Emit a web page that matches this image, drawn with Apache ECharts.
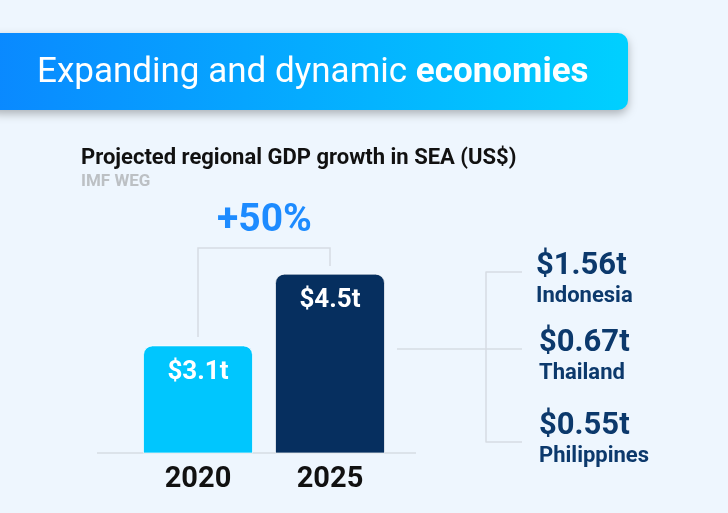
<!DOCTYPE html>
<html><head><meta charset="utf-8">
<script src="https://cdn.jsdelivr.net/npm/echarts@6/dist/echarts.min.js"></script>
<style>html,body{margin:0;padding:0;background:#eef6fe;}#c{width:728px;height:513px;}</style>
</head><body><div id="c"></div>
<script>
const categories = ['2020', '2025'];
const gdpValues = [3.1, 4.5];
const barLabels = ['$3.1t', '$4.5t'];
const growthLabel = '+50%';
const countries = ['Indonesia', 'Thailand', 'Philippines'];
const countryValues = ['$1.56t', '$0.67t', '$0.55t'];

const chart = echarts.init(document.getElementById('c'), null, {renderer: 'canvas'});
const barColors = ['#00c6fe', '#062f5f'];
const navy = '#0c396c';
const lineCol = '#d6dce3';

const valueY = [266, 343.5, 426.5];
const nameY = [296, 373, 456];
const countryX = [536, 539, 539];
const countryGraphics = [];
countries.forEach((name, i) => {
  countryGraphics.push({type: 'text', x: countryX[i], y: valueY[i],
    style: {text: countryValues[i], fill: navy, font: 'bold 31px Roboto', textVerticalAlign: 'middle'}});
  countryGraphics.push({type: 'text', x: countryX[i], y: nameY[i],
    style: {text: name, fill: navy, font: 'bold 22px Roboto', textVerticalAlign: 'middle'}});
});

chart.setOption({
  backgroundColor: '#eef6fe',
  animation: false,
  grid: {left: 132, width: 264, top: 248, height: 205},
  xAxis: {type: 'category', data: categories,
    axisLine: {show: false}, axisTick: {show: false},
    axisLabel: {color: '#111', fontFamily: 'Roboto', fontWeight: 'bold', fontSize: 29, margin: 12}},
  yAxis: {type: 'value', min: 1, max: 5, show: false, splitLine: {show: false}},
  series: [{
    type: 'bar', barWidth: 110,
    data: gdpValues.map((v, i) => ({value: v,
      itemStyle: {color: barColors[i], borderRadius: [9, 9, 0, 0], borderColor: 'rgba(255,255,255,0.7)', borderWidth: 1},
      label: {formatter: barLabels[i]}})),
    label: {show: true, position: 'insideTop', distance: 14, color: '#fff',
      fontFamily: 'Roboto', fontWeight: 'bold', fontSize: 26}
  }],
  graphic: [
    {type: 'rect', shape: {x: -12, y: 33, width: 640, height: 77, r: 10}, z: 1,
      style: {fill: new echarts.graphic.LinearGradient(0, 0, 1, 0, [
        {offset: 0, color: '#0a88ff'}, {offset: 1, color: '#00d0ff'}]),
        shadowBlur: 10, shadowOffsetY: 4, shadowColor: 'rgba(0,0,0,0.28)'}},
    {type: 'text', x: 37, y: 73, z: 2,
      style: {text: '{a|Expanding and dynamic }{b|economies}', textVerticalAlign: 'middle', fill: '#fff',
        rich: {a: {fontSize: 35, fontWeight: 'normal', fontFamily: 'Roboto', fill: '#fff', color: '#fff'},
               b: {fontSize: 35, fontWeight: 'bold', fontFamily: 'Roboto', fill: '#fff', color: '#fff'}}}},
    {type: 'text', x: 81, y: 158, style: {text: 'Projected regional GDP growth in SEA (US$)', fill: '#111', font: 'bold 22px Roboto', textVerticalAlign: 'middle'}},
    {type: 'text', x: 81, y: 182, style: {text: 'IMF WEG', fill: '#bcc0c4', font: 'bold 17px Roboto', textVerticalAlign: 'middle'}},
    {type: 'text', x: 217, y: 221, style: {text: growthLabel, fill: '#1d8bff', font: 'bold 39px Roboto', textVerticalAlign: 'middle'}},
    {type: 'polyline', shape: {points: [[198, 337], [198, 248], [330, 248], [330, 266]]},
      style: {stroke: lineCol, lineWidth: 1.5, fill: null}},
    {type: 'line', shape: {x1: 97, y1: 453, x2: 416, y2: 453}, style: {stroke: lineCol, lineWidth: 1.5}},
    {type: 'line', shape: {x1: 397, y1: 349, x2: 522, y2: 349}, style: {stroke: lineCol, lineWidth: 1.5}},
    {type: 'polyline', shape: {points: [[522, 272], [486, 272], [486, 442], [522, 442]]},
      style: {stroke: lineCol, lineWidth: 1.5, fill: null, lineJoin: 'round'}},
    ...countryGraphics
  ]
});
</script></body></html>
